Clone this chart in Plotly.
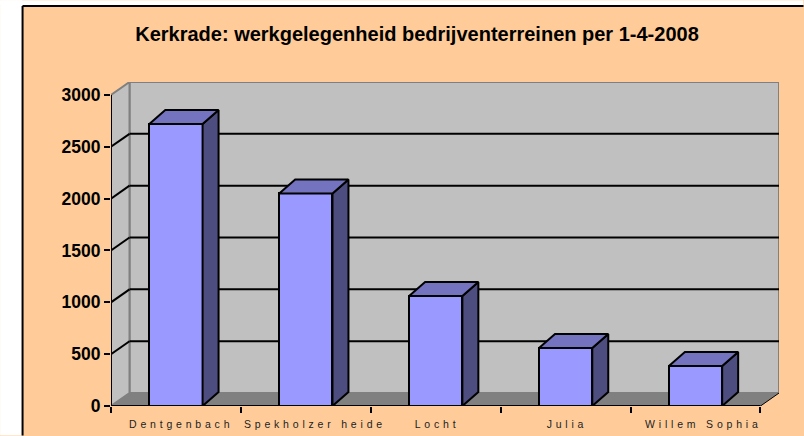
import plotly.graph_objects as go

categories = ["Dentgenbach", "Spekholzer heide", "Locht", "Julia", "Willem Sophia"]
values = [2720, 2050, 1060, 560, 385]
y_ticks = [0, 500, 1000, 1500, 2000, 2500, 3000]
x_boundaries = [0, 1, 2, 3, 4, 5]
label_positions = [0.54, 1.57, 2.51, 3.51, 4.56]
title = "Kerkrade: werkgelegenheid bedrijventerreinen per 1-4-2008"

W, H = 804, 436
L, R, T, B = 111, 779.5, 82, 406.5
WALL_DX, WALL_DY = 0.1425, 125
BAR_W, BAR_DX, BAR_DY = 0.41, 0.123, 135
X_MAX = 5 + WALL_DX
Y_MAX = 3125
FONT = "Liberation Sans"
GREY = "#808080"


def poly(pts, fill, line=None, width=0, layer="below"):
    path = "M " + " L ".join(f"{x} {y}" for x, y in pts) + " Z"
    return dict(type="path", path=path, xref="x", yref="y", fillcolor=fill, layer=layer,
                line=dict(color=line or fill, width=width))


def seg(x0, y0, x1, y1, color="black", width=2):
    return dict(type="line", x0=x0, y0=y0, x1=x1, y1=y1, xref="x", yref="y", layer="below",
                line=dict(color=color, width=width))


shapes = [
    dict(type="rect", xref="paper", yref="paper", layer="below", fillcolor="white", line_width=0,
         x0=-L / (R - L), x1=(W - L) / (R - L), y0=(B - 0) / (B - T), y1=(B - 5) / (B - T)),
    dict(type="rect", xref="paper", yref="paper", layer="below", fillcolor="white", line_width=0,
         x0=-L / (R - L), x1=(22 - L) / (R - L), y0=(B - H) / (B - T), y1=(B - 0) / (B - T)),
    dict(type="line", xref="paper", yref="paper", layer="below", line=dict(color="black", width=2),
         x0=(22.5 - L) / (R - L), x1=(W - L) / (R - L), y0=(B - 6) / (B - T), y1=(B - 6) / (B - T)),
    dict(type="line", xref="paper", yref="paper", layer="below", line=dict(color="black", width=2),
         x0=(22.5 - L) / (R - L), x1=(22.5 - L) / (R - L), y0=(B - H) / (B - T), y1=(B - 6) / (B - T)),
]
top = y_ticks[-1]
shapes += [
    poly([(WALL_DX, WALL_DY), (X_MAX, WALL_DY), (X_MAX, top + WALL_DY), (WALL_DX, top + WALL_DY)],
         "#C0C0C0", GREY, 2),
    poly([(0, 0), (WALL_DX, WALL_DY), (WALL_DX, top + WALL_DY), (0, top)], "#C0C0C0", GREY, 2),
    poly([(0, 0), (5, 0), (X_MAX, WALL_DY), (WALL_DX, WALL_DY)], GREY),
]
for v in y_ticks[1:-1]:
    shapes.append(seg(0, v, WALL_DX, v + WALL_DY))
    shapes.append(seg(WALL_DX, v + WALL_DY, X_MAX, v + WALL_DY))
shapes.append(seg(5, 0, X_MAX, WALL_DY, "black", 1))

centers = [i + 0.5 for i in range(len(values))]
side_x, side_y, top_x, top_y = [], [], [], []
for c, v in zip(centers, values):
    x0, x1 = c - BAR_W / 2, c + BAR_W / 2
    side_x += [x1, x1 + BAR_DX, x1 + BAR_DX, x1, x1, None]
    side_y += [0, BAR_DY, v + BAR_DY, v, 0, None]
    top_x += [x0, x0 + BAR_DX, x1 + BAR_DX, x1, x0, None]
    top_y += [v, v + BAR_DY, v + BAR_DY, v, v, None]

fig = go.Figure()
# base subplot carries the tick marks on the category boundaries
fig.add_trace(go.Scatter(x=[0, 0], y=[0, top], mode="lines", line=dict(color="black", width=2),
                         cliponaxis=False, hoverinfo="skip", showlegend=False))
fig.add_trace(go.Bar(x=centers, y=values, width=BAR_W, xaxis="x2", showlegend=False,
                     marker=dict(color="#9999FF", line=dict(color="black", width=2))))
fig.add_trace(go.Scatter(x=side_x, y=side_y, xaxis="x2", mode="lines", fill="toself",
                         fillcolor="#4D4D80", line=dict(color="black", width=2),
                         hoverinfo="skip", showlegend=False))
fig.add_trace(go.Scatter(x=top_x, y=top_y, xaxis="x2", mode="lines", fill="toself",
                         fillcolor="#7373BF", line=dict(color="black", width=2),
                         hoverinfo="skip", showlegend=False))
fig.add_trace(go.Scatter(x=[0, 5], y=[0, 0], xaxis="x2", mode="lines",
                         line=dict(color="black", width=2), cliponaxis=False,
                         hoverinfo="skip", showlegend=False))

fig.update_layout(
    width=W, height=H, autosize=False,
    margin=dict(l=L, r=W - R, t=T, b=H - B, pad=0, autoexpand=False),
    paper_bgcolor="#FFCC99", plot_bgcolor="rgba(0,0,0,0)",
    shapes=shapes, bargap=0,
    font=dict(family=FONT, color="black"),
    title=dict(text=f"<b>{title}</b>", font=dict(size=20, family=FONT, color="black"),
               x=417 / W, xanchor="center", y=1 - 34 / H, yanchor="middle"),
    xaxis=dict(range=[0, X_MAX], tickmode="array", tickvals=x_boundaries, ticks="outside",
               ticklen=6, tickwidth=2, tickcolor="black", showticklabels=False, automargin=False,
               showgrid=False, zeroline=False, showline=False),
    xaxis2=dict(range=[0, X_MAX], overlaying="x", side="bottom", anchor="y", tickmode="array",
                tickvals=label_positions, ticktext=categories, ticks="", ticklen=0, automargin=False,
                tickangle=0, ticklabelstandoff=10, tickfont=dict(size=10.5, family=FONT, color="#222222"),
                showgrid=False, zeroline=False, showline=False),
    yaxis=dict(range=[0, Y_MAX], tickmode="array", tickvals=y_ticks, ticks="outside",
               ticklen=6, tickwidth=2, tickcolor="black", automargin=False,
               tickfont=dict(size=17.5, family=FONT, color="black", weight="bold"),
               showgrid=False, zeroline=False, showline=False),
)

page_js = """
document.documentElement.style.margin = '0';
document.body.style.margin = '0';
var gd = document.querySelector('.plotly-graph-div');
function spaceLabels(){
  document.querySelectorAll('.xtick text, .x2tick text').forEach(function(t){
    t.style.letterSpacing = '3.8px';
  });
}
spaceLabels();
gd.on('plotly_afterplot', spaceLabels);
"""
fig.write_html("out.html", post_script=page_js, config=dict(displayModeBar=False))
